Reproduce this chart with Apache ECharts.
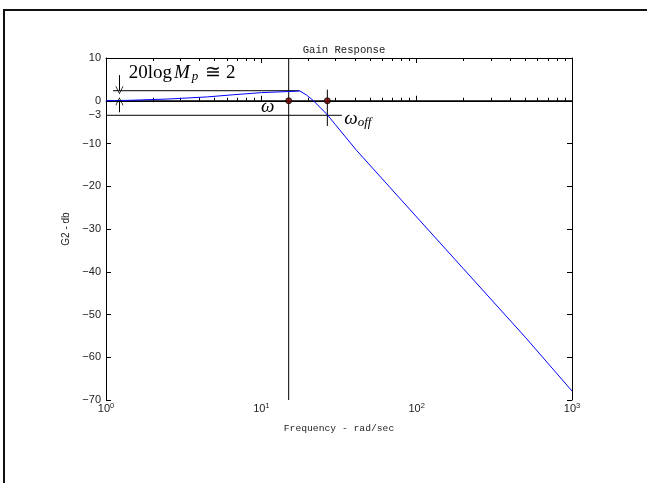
<!DOCTYPE html>
<html><head><meta charset="utf-8">
<script src="https://cdn.jsdelivr.net/npm/echarts@6/dist/echarts.min.js"></script>
<style>html,body{margin:0;padding:0;background:#fff;overflow:hidden}
#wrap{position:relative;width:647px;height:483px;overflow:hidden}
#c{position:absolute;left:0;top:0;width:647px;height:483px}
#frame{position:absolute;left:3px;top:9px;width:644px;height:600px;border-top:2px solid #111;border-left:2px solid #111;pointer-events:none}
</style>
</head><body><div id="wrap"><div id="c"></div><div id="frame"></div></div>
<script>
// Gain response curve (frequency rad/sec, gain dB)
var freq = [1, 1.4, 2.5, 4.5, 6.6, 10, 16, 17.7, 19.6, 21.5, 26.5, 30, 41, 100, 200, 500, 1000];
var gainDb = [0, 0.1, 0.4, 0.9, 1.4, 1.9, 2.2, 2.3, 1.3, 0.1, -3.2, -5.6, -11.6, -27.2, -39.3, -55.3, -67.9];

// axis ticks
var xMajorTicks = [1, 10, 100, 1000];
var xMinorTicks = [2,3,4,5,6,7,8,9,20,30,40,50,60,70,80,90,200,300,400,500,600,700,800,900];
var yTicks = [10, 0, -10, -20, -30, -40, -50, -60, -70];
var yLabels = [10, 0, -3.4, -10, -20, -30, -40, -50, -60, -70];

// annotation segments [[f1,db1],[f2,db2]]
var zeroLine = [[1, 0], [1000, 0]];
var minus3Line = [[1, -3.4], [33, -3.4]];
var mpLine = [[1.11, 2.35], [17.6, 2.35]];
var omegaLine = [[15, 10], [15, -70]];
var omegaOffLine = [[26.6, 2.6], [26.6, -5.9]];
var markedPoints = [[15, 0], [26.6, 0]];
var downArrow = [[1.22, 6], [1.22, 2.45]];
var upArrow = [[1.22, -2.7], [1.22, -0.1]];

var chart = echarts.init(document.getElementById('c'), null, {renderer: 'canvas'});
var txt = '#222';
var sans = 'Liberation Sans';
var mono = 'Liberation Mono';

function segSeries(d) {
  return {type: 'line', data: d, xAxisIndex: 0, yAxisIndex: 0, symbol: 'none', silent: true,
    lineStyle: {color: '#000', width: 1}, z: 2, animation: false};
}
function fmtY(v) { var r = Math.round(v); return (r < 0 ? '\u2212' : '') + Math.abs(r); }
var arrowSym = 'path://M0,10 L5,0 L10,10 L9,10 L5,2 L1,10 Z';

var baseX = {type: 'log', logBase: 10, min: 1, max: 1000, splitLine: {show: false}};
var option = {
  animation: false,
  title: {text: 'Gain Response', left: 339, top: 40, textAlign: 'center',
    textStyle: {fontFamily: mono, fontSize: 10.6, fontWeight: 'normal', color: txt}},
  grid: {left: 106, right: 75, top: 58, bottom: 83},
  xAxis: [
    Object.assign({}, baseX, {position: 'bottom',
      axisLine: {lineStyle: {color: '#000', width: 1}},
      axisTick: {inside: true, length: 5, customValues: xMajorTicks, lineStyle: {color: '#000'}},
      axisLabel: {customValues: xMajorTicks, color: txt, fontFamily: sans, fontSize: 11, margin: 2,
        formatter: function (v) { return '10{s|' + Math.round(Math.log10(v)) + '}'; },
        rich: {s: {fontSize: 7.5, fontFamily: sans, color: txt, verticalAlign: 'top', padding: [0, 0, 6, 0]}}},
      name: 'Frequency - rad/sec', nameLocation: 'middle', nameGap: 23,
      nameTextStyle: {fontFamily: mono, fontSize: 9.7, color: txt}}),
    Object.assign({}, baseX, {position: 'bottom', axisLine: {show: false},
      axisTick: {inside: true, length: 3, customValues: xMinorTicks, lineStyle: {color: '#000'}},
      axisLabel: {show: false}}),
    Object.assign({}, baseX, {position: 'top',
      axisLine: {lineStyle: {color: '#000', width: 1}},
      axisTick: {inside: true, length: 5, customValues: xMajorTicks, lineStyle: {color: '#000'}},
      axisLabel: {show: false}}),
    Object.assign({}, baseX, {position: 'top', axisLine: {show: false},
      axisTick: {inside: true, length: 3, customValues: xMinorTicks, lineStyle: {color: '#000'}},
      axisLabel: {show: false}})
  ],
  yAxis: [
    {type: 'value', min: -70, max: 10, position: 'left', splitLine: {show: false},
      axisLine: {show: true, lineStyle: {color: '#000', width: 1}},
      axisTick: {show: true, inside: true, length: 5, customValues: yTicks, lineStyle: {color: '#000'}},
      axisLabel: {customValues: yLabels, formatter: fmtY, color: txt, fontFamily: sans, fontSize: 11, margin: 5},
      name: 'G2 - db', nameLocation: 'middle', nameGap: 30,
      nameTextStyle: {fontFamily: sans, fontSize: 10, color: txt}},
    {type: 'value', min: -70, max: 10, position: 'right', splitLine: {show: false},
      axisLine: {show: true, lineStyle: {color: '#000', width: 1}},
      axisTick: {show: true, inside: true, length: 5, customValues: yTicks, lineStyle: {color: '#000'}},
      axisLabel: {show: false}}
  ],
  series: [
    segSeries(zeroLine), segSeries(minus3Line), segSeries(mpLine), segSeries(omegaLine), segSeries(omegaOffLine),
    {type: 'line', data: [], xAxisIndex: 0, yAxisIndex: 0, silent: true, z: 2,
      markLine: {silent: true, symbol: ['none', arrowSym], symbolSize: [8, 8], label: {show: false},
        lineStyle: {color: '#000', width: 1, type: 'solid'},
        data: [
          [{coord: downArrow[0]}, {coord: downArrow[1]}],
          [{coord: upArrow[0]}, {coord: upArrow[1]}]
        ]}},
    {type: 'line', data: freq.map(function (f, i) { return [f, gainDb[i]]; }), xAxisIndex: 0, yAxisIndex: 0,
      symbol: 'none', lineStyle: {color: '#0000ff', width: 1}, z: 3, silent: true},
    {type: 'scatter', data: markedPoints, xAxisIndex: 0, yAxisIndex: 0, symbol: 'circle', symbolSize: 6, z: 4,
      itemStyle: {color: '#7a0000', borderColor: '#000', borderWidth: 1}, silent: true}
  ]
};
chart.setOption(option);

function px(p) { return chart.convertToPixel({gridIndex: 0}, p); }
var serif = 'Liberation Serif';
var pMp = px([1.4, 6.4]);
var pW = px([11.0, -1.5]);
var pWo = px([34.2, -4.3]);
chart.setOption({
  graphic: [
    {type: 'text', x: pMp[0], y: pMp[1], silent: true, style: {
      text: '{a|20log}{m|M}{s|p}{e|\u2245 2}', textVerticalAlign: 'middle', textAlign: 'left',
      rich: {
        a: {fontFamily: serif, fontSize: 19, fill: '#000', lineHeight: 20, verticalAlign: 'top', padding: [0, 2, 0, 0]},
        m: {fontFamily: serif, fontSize: 19, fontStyle: 'italic', fill: '#000', lineHeight: 20, verticalAlign: 'top'},
        s: {fontFamily: serif, fontSize: 13, fontStyle: 'italic', fill: '#000', lineHeight: 15, verticalAlign: 'bottom', padding: [9, 7, 0, 2]},
        e: {fontFamily: serif, fontSize: 19, fill: '#000', lineHeight: 20, verticalAlign: 'top'}
      }}},
    {type: 'text', x: pW[0], y: pW[1], silent: true, style: {
      text: '\u03c9', font: 'italic 19px "Liberation Serif"', fill: '#000', textAlign: 'center', textVerticalAlign: 'middle'}},
    {type: 'text', x: pWo[0], y: pWo[1], silent: true, style: {
      text: '{w|\u03c9}{s|off}', textVerticalAlign: 'middle', textAlign: 'left',
      rich: {
        w: {fontFamily: serif, fontSize: 19, fontStyle: 'italic', fill: '#000', lineHeight: 20, verticalAlign: 'top'},
        s: {fontFamily: serif, fontSize: 13, fontStyle: 'italic', fill: '#000', lineHeight: 15, verticalAlign: 'bottom', padding: [9, 0, 0, 0]}
      }}}
  ]
});
</script>
</body></html>
